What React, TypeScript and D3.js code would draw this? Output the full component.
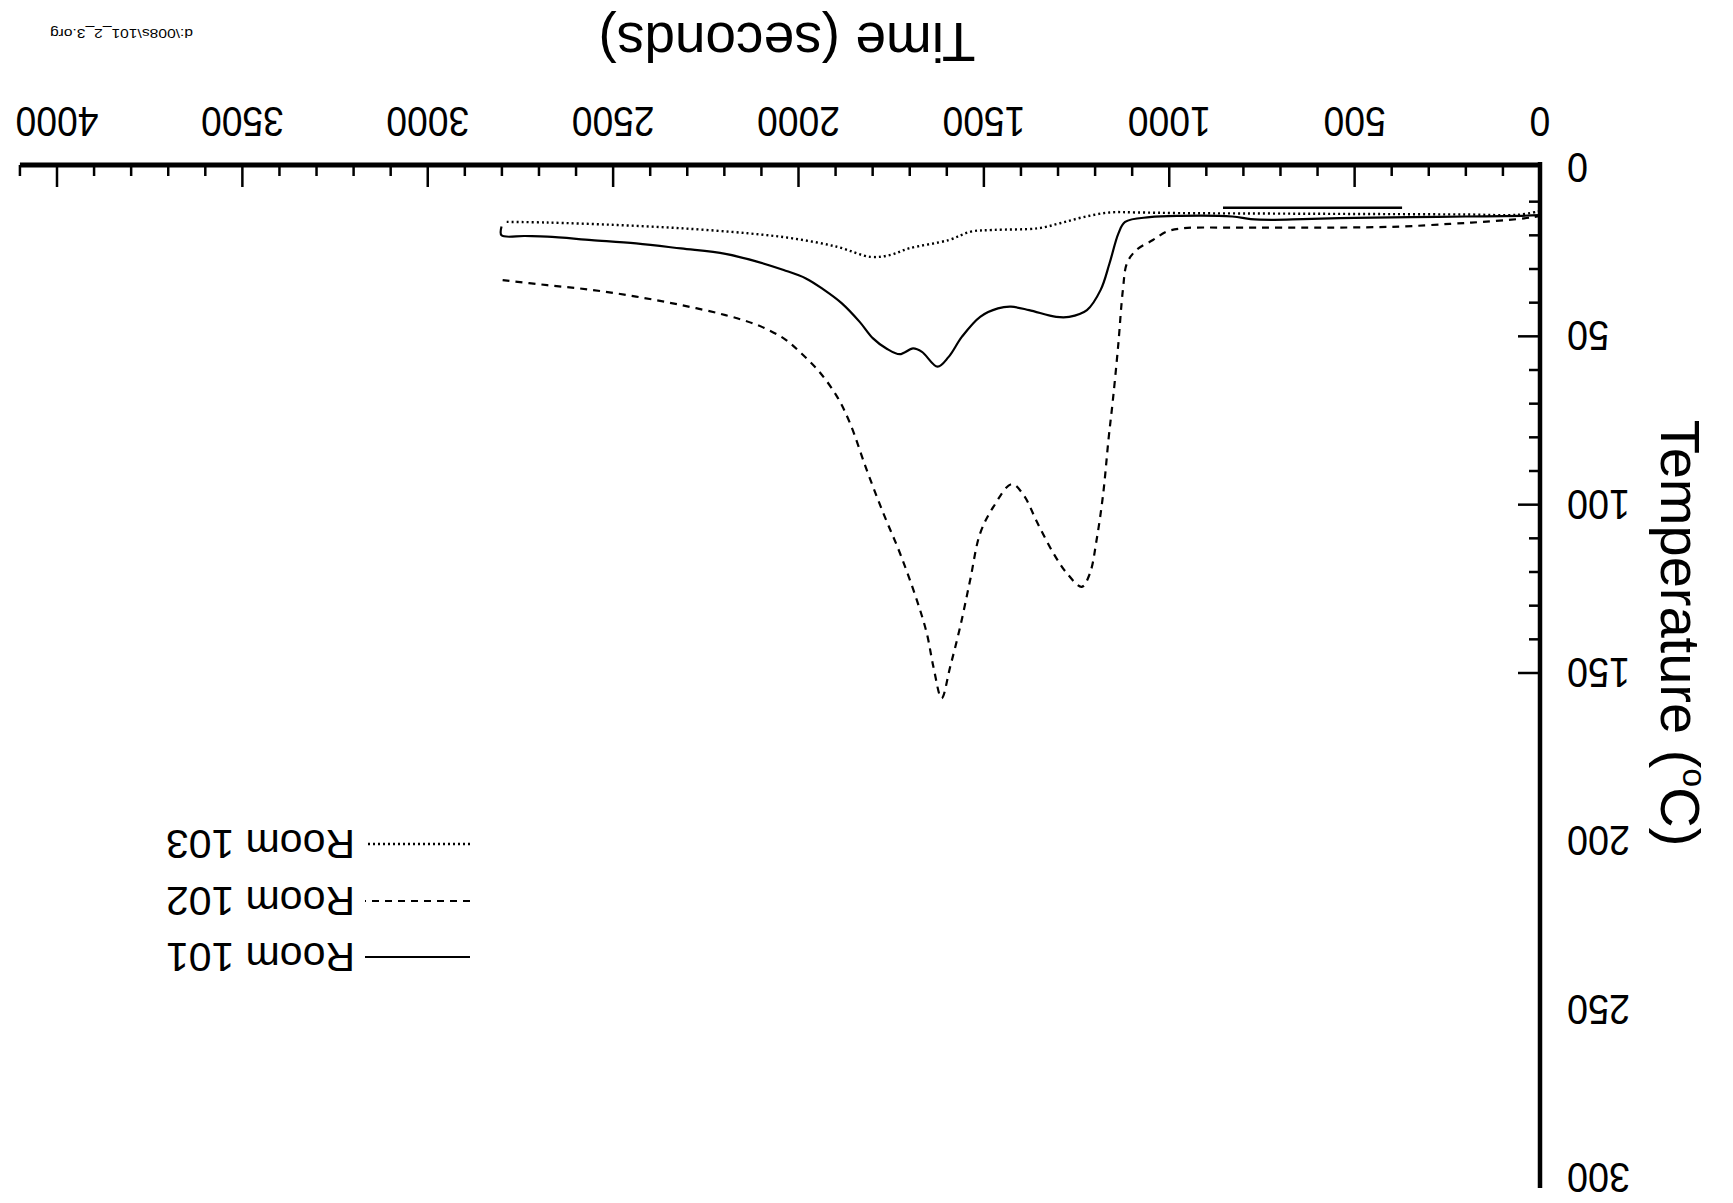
import React from "react";
import * as d3 from "d3";

// ---- data (time in seconds, temperature in °C) ----
const room101: [number, number][] = [
  [2801, 17.4], [2801, 20.0], [2738, 20.2], [2678, 20.4], [2558, 21.4], [2438, 22.4], [2317, 23.9],
  [2197, 25.5], [2112, 27.8], [2040, 30.3], [1980, 32.8], [1931, 36.2], [1883, 40.2], [1835, 45.7],
  [1799, 50.6], [1763, 53.6], [1727, 55.3], [1691, 53.6], [1667, 54.6], [1625, 59.0], [1595, 56.1],
  [1559, 50.1], [1510, 44.2], [1462, 41.7], [1427, 41.2], [1378, 42.2], [1305, 44.2], [1270, 44.2],
  [1222, 42.2], [1185, 36.2], [1161, 28.3], [1137, 19.4], [1119, 16.0], [1053, 14.6], [971, 14.2],
  [830, 14.4], [780, 15.2], [720, 15.4], [640, 15.2], [500, 14.8], [350, 14.6], [200, 14.4],
  [50, 14.2], [0, 14.0],
];

const room102: [number, number][] = [
  [2798, 33.3], [2678, 34.8], [2558, 36.2], [2438, 38.2], [2317, 40.7], [2197, 43.7], [2112, 46.6],
  [2040, 50.6], [1992, 55.1], [1944, 60.5], [1896, 67.9], [1861, 75.8], [1816, 89.7], [1771, 102.6],
  [1726, 114.5], [1681, 128.3], [1654, 138.2], [1636, 148.2], [1614, 157.5], [1591, 148.2],
  [1564, 136.3], [1537, 122.4], [1510, 108.5], [1474, 100.6], [1425, 93.9], [1393, 97.1],
  [1357, 105.1], [1312, 114.5], [1276, 120.4], [1236, 124.4], [1214, 120.4], [1196, 110.5],
  [1178, 96.6], [1164, 80.8], [1152, 68.9], [1138, 53.1], [1125, 36.2], [1114, 28.3], [1089, 24.4],
  [1044, 21.4], [1007, 18.9], [962, 17.9], [828, 17.7], [558, 17.7], [378, 17.4], [243, 16.6],
  [154, 16.0], [62, 15.2], [19, 14.6], [0, 14.2],
];

const room103: [number, number][] = [
  [2787, 16.0], [2678, 16.2], [2497, 16.9], [2317, 17.9], [2136, 19.4], [2016, 20.9], [1896, 23.4],
  [1805, 26.4], [1751, 25.8], [1703, 23.9], [1595, 21.4], [1535, 18.9], [1475, 18.4], [1354, 17.9],
  [1294, 16.4], [1232, 14.6], [1161, 13.2], [1089, 13.2], [971, 13.4], [800, 13.5], [600, 13.6],
  [400, 13.7], [200, 13.8], [60, 13.9], [0, 12.8],
];

// stray scanned bar above the curves
const strayBar: [number, number][] = [[855, 11.8], [372, 11.8]];

const xTickLabels = [0, 500, 1000, 1500, 2000, 2500, 3000, 3500, 4000];
const yTickLabels = [0, 50, 100, 150, 200, 250, 300];
const xMinorTicks = d3.range(0, 4101, 100);
const yMinorTicks = d3.range(10, 151, 10);

const legendNames = ["Room 101", "Room 102", "Room 103"];

const W = 1733;
const H = 1203;
const FONT = "'Liberation Sans', Arial, Helvetica, sans-serif";

export default function App() {
  const x = d3.scaleLinear().domain([0, 4000]).range([193, 1676]);
  const y = d3.scaleLinear().domain([0, 300]).range([1035, 25]);
  const line = d3
    .line<[number, number]>()
    .x((d) => x(d[0]))
    .y((d) => y(d[1]))
    .curve(d3.curveCatmullRom.alpha(0.5));
  const straight = d3
    .line<[number, number]>()
    .x((d) => x(d[0]))
    .y((d) => y(d[1]));

  const axisY = 1038;
  const series = [
    { data: room101, dash: "none", width: 2.2 },
    { data: room102, dash: "7,6", width: 2.2 },
    { data: room103, dash: "2,3", width: 2.4 },
  ];
  const legendRows = [246, 302, 359];

  return (
    <svg
      width={W}
      height={H}
      style={{ position: "absolute", left: 0, top: 0, background: "#fff" }}
    >
      <rect x={0} y={0} width={W} height={H} fill="#fff" />
      <g transform={`rotate(180 ${W / 2} ${H / 2})`} fontFamily={FONT} fill="#000">
        {/* axes */}
        <line x1={x(0)} x2={x(4100)} y1={axisY} y2={axisY} stroke="#000" strokeWidth={5} />
        <line x1={x(0)} x2={x(0)} y1={axisY + 3} y2={15} stroke="#000" strokeWidth={4.5} />
        {xMinorTicks.map((t) => (
          <line
            key={"xt" + t}
            x1={x(t)}
            x2={x(t)}
            y1={axisY}
            y2={axisY - (t % 500 === 0 ? 22 : 11)}
            stroke="#000"
            strokeWidth={2.5}
          />
        ))}
        {yMinorTicks.map((v) => (
          <line
            key={"yt" + v}
            x1={x(0)}
            x2={x(0) + (v % 50 === 0 ? 22 : 11)}
            y1={y(v)}
            y2={y(v)}
            stroke="#000"
            strokeWidth={2.5}
          />
        ))}
        {xTickLabels.map((t) => (
          <text
            key={"xl" + t}
            x={x(t)}
            y={1081}
            textAnchor="middle"
            dominantBaseline="central"
            fontSize={43}
            textLength={String(t).length * 20.7}
            lengthAdjust="spacingAndGlyphs"
          >
            {t}
          </text>
        ))}
        {yTickLabels.map((v) => (
          <text
            key={"yl" + v}
            x={166}
            y={y(v)}
            textAnchor="end"
            dominantBaseline="central"
            fontSize={43}
            textLength={String(v).length * 21}
            lengthAdjust="spacingAndGlyphs"
          >
            {v}
          </text>
        ))}
        {/* axis titles */}
        <text x={946} y={1180} textAnchor="middle" fontSize={55}>
          Time (seconds)
        </text>
        <text
          transform={`translate(72 ${570}) rotate(-90)`}
          textAnchor="middle"
          fontSize={56}
        >
          Temperature (
          <tspan fontSize={34} baselineShift="65%">o</tspan>
          <tspan>C)</tspan>
        </text>
        {/* file note */}
        <text x={1540} y={1174} fontSize={12} textLength={143} lengthAdjust="spacingAndGlyphs">
          d:\008s\101_2_3.org
        </text>
        {/* series */}
        {series.map((s, i) => (
          <path
            key={"s" + i}
            d={line(s.data) || ""}
            fill="none"
            stroke="#000"
            strokeWidth={s.width}
            strokeDasharray={s.dash}
          />
        ))}
        <path d={straight(strayBar) || ""} stroke="#000" strokeWidth={2.5} fill="none" />
        {/* legend */}
        {legendNames.map((name, i) => (
          <g key={name}>
            <line
              x1={1263}
              x2={1368}
              y1={legendRows[i]}
              y2={legendRows[i]}
              stroke="#000"
              strokeWidth={series[i].width}
              strokeDasharray={series[i].dash}
            />
            <text x={1378} y={legendRows[i]} dominantBaseline="central" fontSize={41}>
              {name}
            </text>
          </g>
        ))}
      </g>
    </svg>
  );
}
